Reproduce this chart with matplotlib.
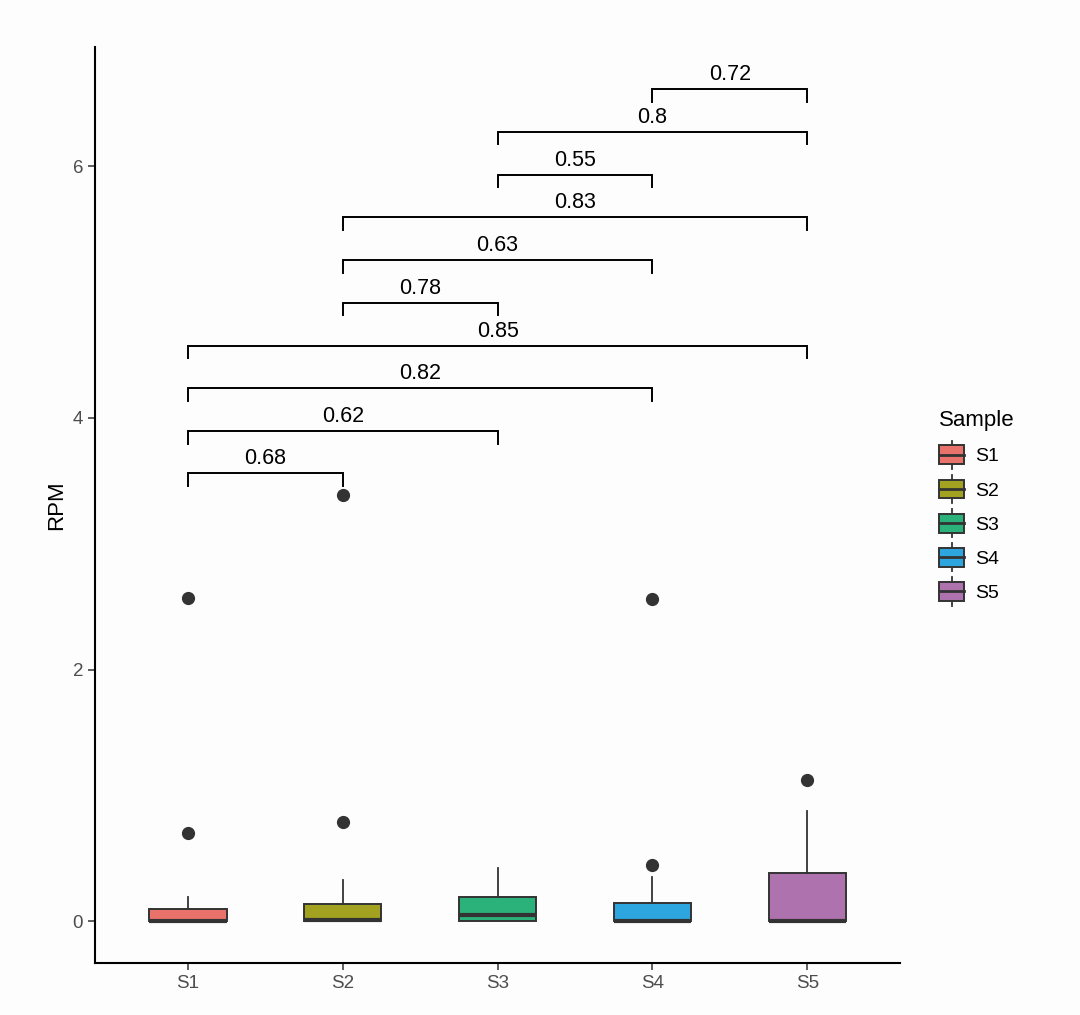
import matplotlib
matplotlib.use("Agg")
import matplotlib.pyplot as plt
from matplotlib.patches import Rectangle
from matplotlib.lines import Line2D
from matplotlib.legend_handler import HandlerBase

plt.rcParams['font.family'] = ['Liberation Sans', 'DejaVu Sans']

# ---- data ----
samples = ["S1", "S2", "S3", "S4", "S5"]
colors = ["#E9736B", "#A2A220", "#2BB27A", "#2DA6E0", "#AE72AE"]
q1 = [0.0, 0.0, 0.0, 0.0, 0.0]
medians = [0.0, 0.01, 0.05, 0.0, 0.0]
q3 = [0.095, 0.135, 0.19, 0.143, 0.385]
whisker_lo = [0.0, 0.0, 0.0, 0.0, 0.0]
whisker_hi = [0.19, 0.33, 0.42, 0.35, 0.875]
outliers = [[0.70, 2.57], [0.79, 3.39], [], [0.445, 2.56], [1.12]]

pair_a = ["S1", "S1", "S1", "S1", "S2", "S2", "S2", "S3", "S3", "S4"]
pair_b = ["S2", "S3", "S4", "S5", "S3", "S4", "S5", "S4", "S5", "S5"]
p_values = ["0.68", "0.62", "0.82", "0.85", "0.78", "0.63", "0.83", "0.55", "0.8", "0.72"]
bracket_y = [3.56, 3.895, 4.235, 4.575, 4.915, 5.255, 5.595, 5.935, 6.275, 6.615]

yticks = [0, 2, 4, 6]

# ---- figure ----
fig = plt.figure(figsize=(10.8, 10.15), dpi=100, facecolor="#FDFDFD")
ax = fig.add_axes([0.088, 0.0512, 0.7455, 0.9025], facecolor="#FDFDFD")

positions = list(range(1, len(samples) + 1))
stats = []
for i, s in enumerate(samples):
    stats.append(dict(label=s, q1=q1[i], med=medians[i], q3=q3[i],
                      whislo=whisker_lo[i], whishi=whisker_hi[i],
                      fliers=outliers[i]))

edge = "#333333"
bp = ax.bxp(stats, positions=positions, widths=0.5, patch_artist=True,
            showcaps=False, showfliers=True,
            boxprops=dict(edgecolor=edge, linewidth=1.4),
            whiskerprops=dict(color=edge, linewidth=1.3),
            medianprops=dict(color=edge, linewidth=3.0, solid_capstyle="butt"),
            flierprops=dict(marker="o", markerfacecolor=edge, markeredgecolor=edge,
                            markersize=8.5, linestyle="none"))
for patch, c in zip(bp["boxes"], colors):
    patch.set_facecolor(c)

# significance brackets
tick_h = 0.1
for a, b, p, y in zip(pair_a, pair_b, p_values, bracket_y):
    xa = samples.index(a) + 1
    xb = samples.index(b) + 1
    ax.plot([xa, xa, xb, xb], [y - tick_h, y, y, y - tick_h], color="black",
            linewidth=1.4, solid_joinstyle="miter")
    ax.annotate(p, xy=((xa + xb) / 2, y), xytext=(0, 6.5), textcoords="offset points",
                ha="center", va="baseline", fontsize=15.5, color="black")

ax.set_xlim(0.4, 5.6)
ax.set_ylim(-0.334, 6.95)
ax.set_xticks(positions)
ax.set_xticklabels(samples)
ax.set_yticks(yticks)
ax.set_yticklabels([str(t) for t in yticks])
ax.tick_params(axis="both", colors="#333333", labelcolor="#4D4D4D", labelsize=13.5,
               length=5, width=1.1)
ax.set_ylabel("RPM", fontsize=16, color="black", labelpad=4)
for side in ["top", "right"]:
    ax.spines[side].set_visible(False)
for side in ["left", "bottom"]:
    ax.spines[side].set_linewidth(1.5)
    ax.spines[side].set_color("black")


class BoxHandler(HandlerBase):
    def __init__(self, color):
        super().__init__()
        self.color = color

    def create_artists(self, legend, orig_handle, xdescent, ydescent, width, height,
                       fontsize, trans):
        w = width * 0.95
        x0 = xdescent + (width - w) / 2
        h = height * 0.95
        y0 = -ydescent + (height - h) / 2
        cx = x0 + w / 2
        artists = []
        artists.append(Line2D([cx, cx], [y0 - 0.25 * h, y0 + 1.25 * h], color=edge,
                              linewidth=1.3, transform=trans))
        artists.append(Rectangle((x0, y0), w, h, facecolor=self.color, edgecolor=edge,
                                 linewidth=1.4, transform=trans))
        artists.append(Line2D([x0, x0 + w], [y0 + h / 2, y0 + h / 2], color=edge,
                              linewidth=2.0, transform=trans))
        return artists


handles = [Rectangle((0, 0), 1, 1) for _ in samples]
handler_map = {h: BoxHandler(c) for h, c in zip(handles, colors)}
leg = fig.legend(handles, samples, handler_map=handler_map, title="Sample",
                 loc="upper left", bbox_to_anchor=(0.853, 0.613), frameon=False,
                 fontsize=14, title_fontsize=16, handlelength=1.35, handleheight=1.2,
                 labelspacing=0.7, handletextpad=0.5, alignment="left")

fig.savefig("out.png", dpi=100, facecolor=fig.get_facecolor())
